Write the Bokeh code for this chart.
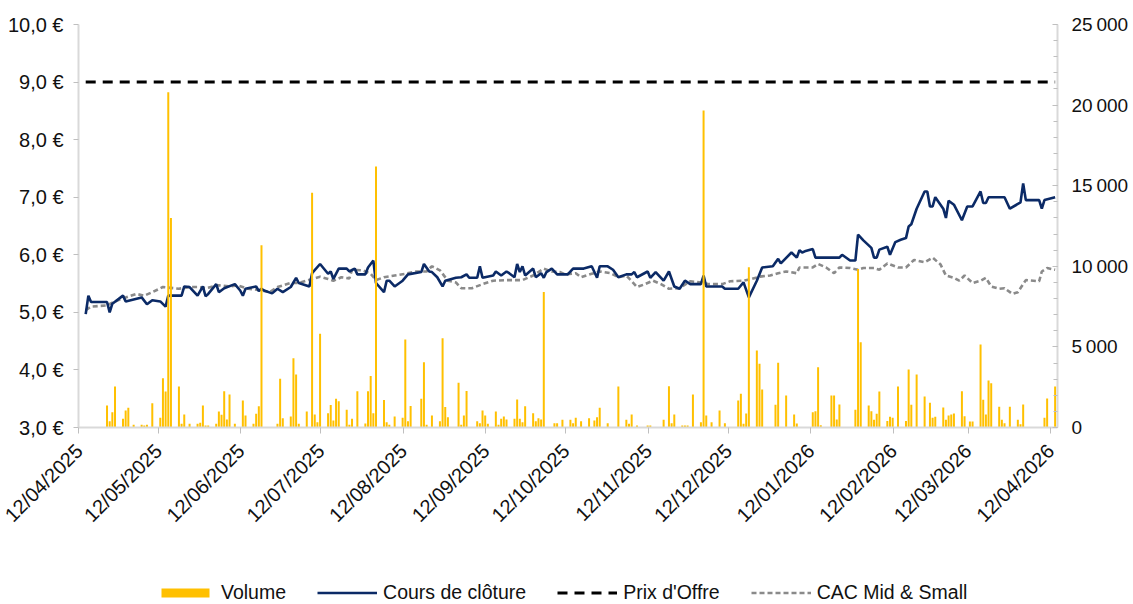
import pandas as pd
from bokeh.plotting import figure
from bokeh.layouts import column
from bokeh.models import (Range1d, LinearAxis, FixedTicker, DatetimeTickFormatter,
                          Legend, LegendItem)
from bokeh.embed import file_html
from bokeh.resources import INLINE

# ---------------- data ----------------
x_tick_labels = ["12/04/2025", "12/05/2025", "12/06/2025", "12/07/2025", "12/08/2025",
                 "12/09/2025", "12/10/2025", "12/11/2025", "12/12/2025", "12/01/2026",
                 "12/02/2026", "12/03/2026", "12/04/2026"]
left_ticks = [3, 4, 5, 6, 7, 8, 9, 10]
left_labels = ["3,0 €", "4,0 €", "5,0 €", "6,0 €", "7,0 €", "8,0 €", "9,0 €", "10,0 €"]
right_ticks = [0, 5000, 10000, 15000, 20000, 25000]
right_labels = ["0", "5\u2009000", "10\u2009000", "15\u2009000", "20\u2009000", "25\u2009000"]
legend_labels = ["Volume", "Cours de clôture", "Prix d'Offre", "CAC Mid & Small"]

offer_price = 9.0

price_dates = [
    "2025-04-14", "2025-04-15", "2025-04-16", "2025-04-22", "2025-04-23", "2025-04-24", "2025-04-28", "2025-04-29",
    "2025-05-05", "2025-05-07", "2025-05-09", "2025-05-12", "2025-05-14", "2025-05-15", "2025-05-20", "2025-05-21",
    "2025-05-23", "2025-05-26", "2025-05-28", "2025-05-29", "2025-05-30",
    "2025-06-02", "2025-06-03", "2025-06-05", "2025-06-09", "2025-06-11", "2025-06-12", "2025-06-13", "2025-06-17",
    "2025-06-18", "2025-06-19", "2025-06-20", "2025-06-23", "2025-06-25", "2025-06-27", "2025-06-30",
    "2025-07-02", "2025-07-03", "2025-07-07", "2025-07-08", "2025-07-11", "2025-07-14", "2025-07-15", "2025-07-16",
    "2025-07-18", "2025-07-21", "2025-07-22", "2025-07-24", "2025-07-25", "2025-07-28", "2025-07-29", "2025-07-31",
    "2025-08-01", "2025-08-04", "2025-08-05", "2025-08-06", "2025-08-08", "2025-08-11", "2025-08-13", "2025-08-18",
    "2025-08-19", "2025-08-21", "2025-08-22", "2025-08-24", "2025-08-26", "2025-08-27", "2025-08-31",
    "2025-09-02", "2025-09-04", "2025-09-05", "2025-09-08", "2025-09-09", "2025-09-10", "2025-09-14", "2025-09-15",
    "2025-09-17", "2025-09-19", "2025-09-20", "2025-09-22", "2025-09-23", "2025-09-24", "2025-09-25", "2025-09-26",
    "2025-09-29", "2025-09-30",
    "2025-10-02", "2025-10-03", "2025-10-04", "2025-10-06", "2025-10-08", "2025-10-12", "2025-10-14", "2025-10-15",
    "2025-10-18", "2025-10-21", "2025-10-23", "2025-10-24", "2025-10-27", "2025-10-29", "2025-10-31",
    "2025-11-03", "2025-11-05", "2025-11-06", "2025-11-07", "2025-11-11", "2025-11-12", "2025-11-14", "2025-11-17",
    "2025-11-19", "2025-11-21", "2025-11-23", "2025-11-25", "2025-11-27",
    "2025-12-01", "2025-12-02", "2025-12-03", "2025-12-09", "2025-12-10", "2025-12-15", "2025-12-17", "2025-12-19",
    "2025-12-22", "2025-12-24", "2025-12-28", "2025-12-30", "2025-12-31",
    "2026-01-04", "2026-01-06", "2026-01-07", "2026-01-08", "2026-01-09", "2026-01-12", "2026-01-13", "2026-01-22",
    "2026-01-23", "2026-01-26", "2026-01-28", "2026-01-29", "2026-01-31",
    "2026-02-03", "2026-02-04", "2026-02-05", "2026-02-06", "2026-02-09", "2026-02-10", "2026-02-12", "2026-02-14",
    "2026-02-16", "2026-02-17", "2026-02-18", "2026-02-20", "2026-02-23", "2026-02-24", "2026-02-25", "2026-02-26",
    "2026-02-27",
    "2026-03-02", "2026-03-03", "2026-03-04", "2026-03-06", "2026-03-09", "2026-03-11", "2026-03-13", "2026-03-16",
    "2026-03-17", "2026-03-18", "2026-03-19", "2026-03-25", "2026-03-27", "2026-03-31",
    "2026-04-01", "2026-04-02", "2026-04-07", "2026-04-08", "2026-04-09", "2026-04-13"]
price_values = [
    4.97, 5.29, 5.18, 5.18, 5.00, 5.15, 5.29, 5.19,
    5.26, 5.14, 5.21, 5.19, 5.10, 5.29, 5.29, 5.45, 5.44, 5.29, 5.45, 5.28, 5.32,
    5.49, 5.35, 5.42, 5.49, 5.38, 5.29, 5.41, 5.45, 5.37, 5.41, 5.38, 5.33, 5.41, 5.35, 5.44,
    5.60, 5.51, 5.45, 5.68, 5.84, 5.67, 5.71, 5.58, 5.76, 5.76, 5.71, 5.76, 5.66, 5.66, 5.78, 5.90,
    5.51, 5.35, 5.55, 5.55, 5.45, 5.55, 5.66, 5.70, 5.84, 5.71, 5.70, 5.61, 5.45, 5.55, 5.60,
    5.61, 5.66, 5.60, 5.60, 5.80, 5.60, 5.64, 5.71, 5.64, 5.71, 5.68, 5.61, 5.84, 5.70, 5.80, 5.64, 5.76, 5.61,
    5.68, 5.60, 5.70, 5.76, 5.66, 5.66, 5.76, 5.76, 5.76, 5.80, 5.60, 5.80, 5.80, 5.74, 5.61,
    5.66, 5.66, 5.70, 5.61, 5.71, 5.60, 5.70, 5.55, 5.71, 5.45, 5.41, 5.55, 5.49,
    5.49, 5.64, 5.45, 5.45, 5.41, 5.41, 5.52, 5.26, 5.55, 5.78, 5.80, 5.93, 5.85,
    6.04, 5.95, 6.08, 6.04, 6.06, 6.10, 5.95, 5.95, 6.00, 5.90, 5.90, 6.35, 6.25,
    6.12, 5.95, 5.95, 6.09, 6.14, 6.00, 6.22, 6.26, 6.29, 6.49, 6.53, 6.80, 7.10, 7.10, 6.84, 6.84, 7.00,
    6.80, 6.64, 6.94, 6.87, 6.60, 6.84, 6.84, 7.10, 6.90, 6.90, 7.00, 7.00, 6.80, 6.91,
    7.24, 6.95, 6.95, 6.80, 6.95, 7.00]

cac_dates = [
    "2025-04-14", "2025-04-16", "2025-04-22", "2025-04-25", "2025-04-29",
    "2025-05-03", "2025-05-06", "2025-05-09", "2025-05-13", "2025-05-19", "2025-05-23", "2025-05-26", "2025-05-29",
    "2025-06-03", "2025-06-07", "2025-06-10", "2025-06-14", "2025-06-18", "2025-06-22", "2025-06-25", "2025-06-30",
    "2025-07-03", "2025-07-08", "2025-07-11", "2025-07-14", "2025-07-16", "2025-07-19", "2025-07-22", "2025-07-23",
    "2025-07-27", "2025-07-30",
    "2025-08-01", "2025-08-04", "2025-08-08", "2025-08-12", "2025-08-16", "2025-08-20", "2025-08-22", "2025-08-25",
    "2025-08-28", "2025-08-31",
    "2025-09-02", "2025-09-06", "2025-09-10", "2025-09-14", "2025-09-19", "2025-09-25", "2025-09-29",
    "2025-10-03", "2025-10-06", "2025-10-09", "2025-10-11", "2025-10-15", "2025-10-17", "2025-10-21", "2025-10-24",
    "2025-10-28", "2025-10-31",
    "2025-11-03", "2025-11-07", "2025-11-10", "2025-11-13", "2025-11-16", "2025-11-19", "2025-11-23", "2025-11-27",
    "2025-12-01", "2025-12-04", "2025-12-09", "2025-12-12", "2025-12-17", "2025-12-20", "2025-12-23", "2025-12-27",
    "2025-12-30",
    "2026-01-02", "2026-01-06", "2026-01-07", "2026-01-12", "2026-01-14", "2026-01-17", "2026-01-20", "2026-01-22",
    "2026-01-26", "2026-01-29", "2026-01-31",
    "2026-02-04", "2026-02-06", "2026-02-09", "2026-02-13", "2026-02-16", "2026-02-19", "2026-02-23", "2026-02-26",
    "2026-03-01", "2026-03-03", "2026-03-06", "2026-03-08", "2026-03-10", "2026-03-13", "2026-03-16", "2026-03-18",
    "2026-03-20", "2026-03-23", "2026-03-25", "2026-03-28", "2026-03-30",
    "2026-04-02", "2026-04-07", "2026-04-08", "2026-04-10", "2026-04-13"]
cac_values = [
    5.04, 5.10, 5.12, 5.19, 5.26,
    5.32, 5.29, 5.35, 5.44, 5.41, 5.44, 5.44, 5.42,
    5.47, 5.45, 5.47, 5.41, 5.39, 5.35, 5.44, 5.51,
    5.51, 5.58, 5.62, 5.58, 5.55, 5.61, 5.59, 5.74, 5.73, 5.67,
    5.56, 5.61, 5.64, 5.67, 5.71, 5.71, 5.80, 5.73, 5.55, 5.52,
    5.42, 5.42, 5.49, 5.55, 5.56, 5.56, 5.64,
    5.76, 5.71, 5.70, 5.66, 5.68, 5.61, 5.67, 5.71, 5.68, 5.61,
    5.64, 5.44, 5.49, 5.55, 5.49, 5.41, 5.42, 5.54,
    5.52, 5.49, 5.49, 5.54, 5.55, 5.58, 5.62, 5.64, 5.68,
    5.71, 5.68, 5.78, 5.78, 5.84, 5.78, 5.68, 5.78, 5.77, 5.74, 5.77,
    5.77, 5.74, 5.85, 5.78, 5.78, 5.91, 5.87, 5.95,
    5.83, 5.64, 5.60, 5.55, 5.64, 5.51, 5.55, 5.60, 5.45, 5.41, 5.42, 5.32, 5.35,
    5.56, 5.54, 5.71, 5.77, 5.74]

vol_dates = [
    "2025-04-22", "2025-04-23", "2025-04-24", "2025-04-25", "2025-04-28", "2025-04-29", "2025-04-30",
    "2025-05-02", "2025-05-05", "2025-05-06", "2025-05-07", "2025-05-09", "2025-05-12", "2025-05-13", "2025-05-14",
    "2025-05-15", "2025-05-16", "2025-05-19", "2025-05-20", "2025-05-21", "2025-05-23", "2025-05-26", "2025-05-27",
    "2025-05-28", "2025-05-29", "2025-05-30",
    "2025-06-02", "2025-06-03", "2025-06-04", "2025-06-05", "2025-06-06", "2025-06-07", "2025-06-09", "2025-06-12",
    "2025-06-13", "2025-06-16", "2025-06-17", "2025-06-18", "2025-06-19", "2025-06-25", "2025-06-26", "2025-06-27",
    "2025-06-30",
    "2025-07-01", "2025-07-02", "2025-07-03", "2025-07-06", "2025-07-08", "2025-07-09", "2025-07-10", "2025-07-11",
    "2025-07-14", "2025-07-15", "2025-07-16", "2025-07-17", "2025-07-18", "2025-07-21", "2025-07-22", "2025-07-23",
    "2025-07-25", "2025-07-28", "2025-07-29", "2025-07-30", "2025-07-31",
    "2025-08-01", "2025-08-04", "2025-08-05", "2025-08-06", "2025-08-08", "2025-08-11", "2025-08-12", "2025-08-13",
    "2025-08-14", "2025-08-18", "2025-08-19", "2025-08-20", "2025-08-22", "2025-08-25", "2025-08-26", "2025-08-27",
    "2025-08-28",
    "2025-09-01", "2025-09-02", "2025-09-03", "2025-09-04", "2025-09-08", "2025-09-09", "2025-09-10", "2025-09-11",
    "2025-09-12", "2025-09-15", "2025-09-16", "2025-09-17", "2025-09-18", "2025-09-19", "2025-09-22", "2025-09-23",
    "2025-09-24", "2025-09-25", "2025-09-26", "2025-09-29", "2025-09-30",
    "2025-10-01", "2025-10-02", "2025-10-03", "2025-10-07", "2025-10-08", "2025-10-10", "2025-10-13", "2025-10-14",
    "2025-10-15", "2025-10-17", "2025-10-20", "2025-10-22", "2025-10-23", "2025-10-24", "2025-10-27", "2025-10-31",
    "2025-11-03", "2025-11-04", "2025-11-05", "2025-11-07", "2025-11-11", "2025-11-12", "2025-11-17", "2025-11-19",
    "2025-11-20", "2025-11-21", "2025-11-24", "2025-11-25", "2025-11-26", "2025-11-28",
    "2025-12-01", "2025-12-02", "2025-12-03", "2025-12-05", "2025-12-08", "2025-12-10", "2025-12-15", "2025-12-16",
    "2025-12-17", "2025-12-18", "2025-12-19", "2025-12-22", "2025-12-23", "2025-12-24", "2025-12-29", "2025-12-30",
    "2026-01-02", "2026-01-05", "2026-01-06", "2026-01-12", "2026-01-13", "2026-01-14", "2026-01-15", "2026-01-19",
    "2026-01-20", "2026-01-21", "2026-01-22", "2026-01-28", "2026-01-29", "2026-01-30",
    "2026-02-02", "2026-02-03", "2026-02-04", "2026-02-05", "2026-02-06", "2026-02-09", "2026-02-10", "2026-02-11",
    "2026-02-13", "2026-02-16", "2026-02-17", "2026-02-18", "2026-02-20", "2026-02-23", "2026-02-25", "2026-02-26",
    "2026-02-27",
    "2026-03-02", "2026-03-03", "2026-03-04", "2026-03-05", "2026-03-06", "2026-03-09", "2026-03-10", "2026-03-12",
    "2026-03-13", "2026-03-16", "2026-03-17", "2026-03-18", "2026-03-19", "2026-03-20", "2026-03-23", "2026-03-24",
    "2026-03-25", "2026-03-27", "2026-03-30", "2026-03-31",
    "2026-04-01", "2026-04-09", "2026-04-10", "2026-04-13"]
vol_values = [
    1365, 390, 950, 2540, 540, 1050, 1220,
    170, 170, 130, 170, 1510, 600, 3060, 2230, 20800, 13000, 2540, 230, 810, 230, 230, 290, 1365, 130, 130,
    230, 990, 790, 2250, 500, 2040, 230, 1680, 750, 230, 850, 1325, 11300, 230, 3020, 580, 680,
    4300, 3290, 230, 990, 14560, 810, 330, 5810, 880, 1400, 430, 1790, 1630, 1100, 170, 540, 2250, 250, 2250,
    3200, 880,
    16190, 1710, 330, 170, 680, 600, 5460, 390, 1340, 1790, 4050, 170, 750, 390, 5540, 1270, 640,
    2770, 170, 750, 2270, 390, 270, 1050, 750, 230, 990, 170, 540, 680, 500, 540, 1730, 540, 330, 1325, 880, 390,
    580, 500, 8400, 270, 270, 480, 480, 270, 600, 390, 580, 430, 640, 1220, 270, 2540,
    480, 230, 810, 130, 130, 130, 480, 2560, 270, 810, 130, 130, 130, 2040,
    330, 19660, 750, 330, 1050, 270, 1675, 2090, 230, 870, 9940, 4780, 3950, 2360, 1410, 4010,
    1985, 810, 250, 950, 1010, 3740, 140, 1985, 1985, 500, 1430, 1095, 9840, 5290,
    1370, 1010, 480, 850, 2230, 400, 660, 600, 2540, 400, 3600, 1410, 3290, 1920, 1530, 600, 660,
    1240, 480, 740, 810, 870, 2250, 700, 370, 370, 5150, 1720, 810, 2920, 2750, 1280, 480, 270, 1280, 480, 200,
    1430, 600, 1800, 2540]

# ---------------- styles ----------------
shift = pd.Timedelta(hours=17)


def to_x(dates):
    return list(pd.to_datetime(dates) + shift)


FONT = "Liberation Sans"
TXT = "#111111"
AXIS_C = "#D9D9D9"
TICK_C = "#BFBFBF"
VOL_C = "#FFC000"
PRICE_C = "#0B2A66"
CAC_C = "#8A8A8A"

price_style = dict(line_color=PRICE_C, line_width=2.6)
cac_style = dict(line_color=CAC_C, line_width=2.6, line_dash="5 3")
offer_style = dict(line_color="black", line_width=3, line_dash="10 7")
vol_style = dict(fill_color=VOL_C, line_color=None)

x0 = pd.Timestamp("2025-04-12")
x1 = x0 + pd.Timedelta(days=367.6)

p = figure(width=1133, height=570, x_axis_type="datetime",
           x_range=Range1d(x0, x1), y_range=Range1d(3, 10),
           output_backend="svg", toolbar_location=None,
           min_border_left=78, min_border_right=76, min_border_top=24, min_border_bottom=143)
p.extra_y_ranges = {"vol": Range1d(0, 25000)}
p.outline_line_color = None
p.grid.visible = False

p.line(to_x([price_dates[0], price_dates[-1]]), [offer_price, offer_price], **offer_style)
p.line(to_x(cac_dates), cac_values, **cac_style)
p.line(to_x(price_dates), price_values, **price_style)
p.vbar(x=to_x(vol_dates), top=vol_values, width=0.75 * 86400000, y_range_name="vol", **vol_style)

# x axis
xa = p.xaxis[0]
tick_ms = [int(t) // 10**6 for t in pd.to_datetime(x_tick_labels, format="%d/%m/%Y").asi8]
xa.ticker = FixedTicker(ticks=tick_ms)
fmt = "%d/%m/%Y"
xa.formatter = DatetimeTickFormatter(milliseconds=fmt, seconds=fmt, minsec=fmt, minutes=fmt, hourmin=fmt,
                                     hours=fmt, days=fmt, months=fmt, years=fmt)
xa.major_label_orientation = 0.785398
xa.major_label_text_font = FONT
xa.major_label_text_font_size = "20px"
xa.major_label_text_color = TXT
xa.axis_line_color = AXIS_C
xa.axis_line_width = 2
xa.major_tick_line_color = TICK_C
xa.major_tick_out = 6
xa.major_tick_in = 0
xa.minor_tick_line_color = None
xa.major_label_standoff = 14

# left axis
ya = p.yaxis[0]
ya.ticker = FixedTicker(ticks=left_ticks)
ya.major_label_overrides = {t: l for t, l in zip(left_ticks, left_labels)}
ya.major_label_text_font = FONT
ya.major_label_text_font_size = "20px"
ya.major_label_text_color = TXT
ya.axis_line_color = AXIS_C
ya.axis_line_width = 2
ya.major_tick_line_color = TICK_C
ya.major_tick_out = 5
ya.major_tick_in = 0
ya.minor_tick_line_color = None
ya.major_label_standoff = 10

# right axis
ra = LinearAxis(y_range_name="vol")
ra.ticker = FixedTicker(ticks=right_ticks, minor_ticks=list(range(0, 25001, 1000)))
ra.major_label_overrides = {t: l for t, l in zip(right_ticks, right_labels)}
ra.major_label_text_font = FONT
ra.major_label_text_font_size = "19px"
ra.major_label_text_color = TXT
ra.axis_line_color = AXIS_C
ra.axis_line_width = 2
ra.major_tick_line_color = TICK_C
ra.minor_tick_line_color = TICK_C
ra.major_tick_out = 0
ra.major_tick_in = 5
ra.minor_tick_out = 0
ra.minor_tick_in = 4
ra.major_label_standoff = 14
p.add_layout(ra, "right")

# ---------------- legend strip ----------------
lp = figure(width=1133, height=34, x_range=Range1d(0, 1), y_range=Range1d(0, 1),
            output_backend="svg", toolbar_location=None,
            x_axis_location=None, y_axis_location=None,
            min_border_left=0, min_border_right=0, min_border_top=0, min_border_bottom=0)
lp.outline_line_color = None
lp.grid.visible = False
lp.border_fill_color = "white"
lv = lp.vbar(x=[-5], top=[-5], width=0.5, **vol_style)
lpr = lp.line([-6, -5], [-5, -5], **price_style)
lo = lp.line([-6, -5], [-5, -5], **offer_style)
lc = lp.line([-6, -5], [-5, -5], **cac_style)

legend = Legend(items=[LegendItem(label=legend_labels[0], renderers=[lv]),
                       LegendItem(label=legend_labels[1], renderers=[lpr]),
                       LegendItem(label=legend_labels[2], renderers=[lo]),
                       LegendItem(label=legend_labels[3], renderers=[lc])],
                orientation="horizontal", location=(77, 0),
                label_text_font=FONT, label_text_font_size="19.5px", label_text_color=TXT,
                glyph_width=60, glyph_height=11, label_standoff=6, spacing=31,
                padding=0, margin=0, border_line_color=None, background_fill_alpha=0)
lp.add_layout(legend, "center")

layout = column(p, lp, spacing=0)
open("out.html", "w").write(file_html(layout, INLINE))
